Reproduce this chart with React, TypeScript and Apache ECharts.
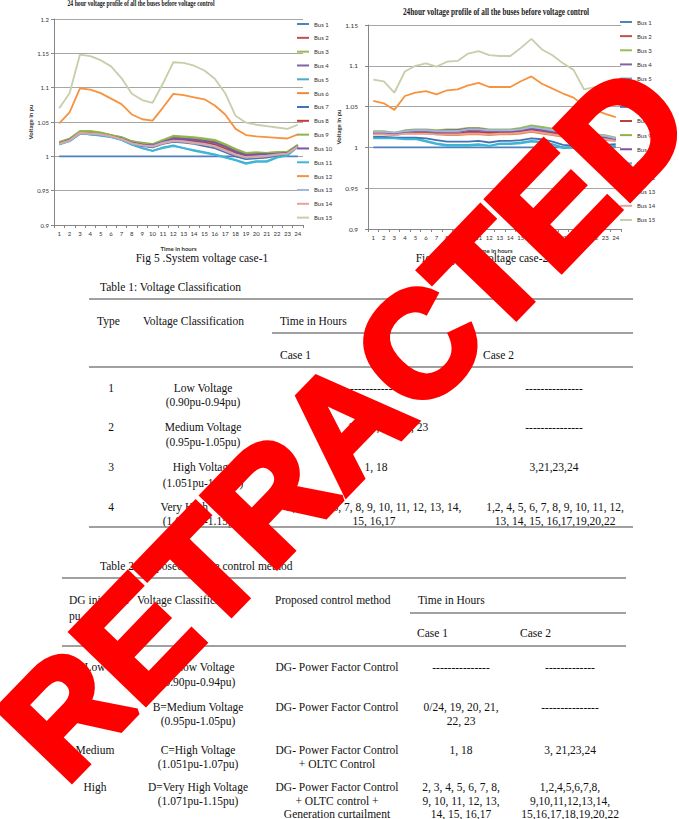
import React, { useEffect, useRef } from "react";
import * as echarts from "echarts";

const hours = ["1","2","3","4","5","6","7","8","9","10","11","12","13","14","15","16","17","18","19","20","21","22","23","24"];
const busNames = ["Bus 1","Bus 2","Bus 3","Bus 4","Bus 5","Bus 6","Bus 7","Bus 8","Bus 9","Bus 10","Bus 11","Bus 12","Bus 13","Bus 14","Bus 15"];
const busColors = ["#4F81BD","#C0504D","#9BBB59","#8064A2","#4BACC6","#E98A3E","#3F74B5","#BE3E3A","#8FB34A","#7A55A6","#3DB7D9","#F7923F","#A3B8D9","#E3A3A1","#C6CEAA"];

// Case 1 (Fig 5)
const c1Bus1 = [1,1,1,1,1,1,1,1,1,1,1,1,1,1,1,1,1,1,1,1,1,1,1,1];
const c1Bus2 = [1.020,1.025,1.035,1.035,1.034,1.030,1.027,1.021,1.019,1.017,1.022,1.027,1.026,1.025,1.023,1.021,1.015,1.008,1.003,1.004,1.004,1.005,1.006,1.016];
const c1Bus3 = [1.021,1.026,1.037,1.037,1.035,1.031,1.028,1.022,1.020,1.018,1.024,1.030,1.029,1.028,1.026,1.024,1.018,1.011,1.005,1.006,1.005,1.006,1.007,1.017];
const c1Bus4 = [1.019,1.024,1.035,1.034,1.033,1.030,1.027,1.021,1.019,1.017,1.022,1.027,1.027,1.026,1.024,1.022,1.016,1.009,1.003,1.004,1.004,1.005,1.005,1.015];
const c1Bus5 = [1.018,1.022,1.033,1.032,1.031,1.028,1.024,1.017,1.012,1.008,1.013,1.016,1.012,1.009,1.006,1.003,0.999,0.995,0.990,0.993,0.993,0.999,1.002,1.014];
const c1Bus6 = [1.019,1.024,1.035,1.035,1.034,1.031,1.027,1.020,1.018,1.016,1.021,1.025,1.024,1.022,1.020,1.018,1.012,1.006,1.002,1.003,1.003,1.004,1.005,1.015];
const c1Bus7 = [1.018,1.023,1.033,1.032,1.031,1.029,1.025,1.018,1.015,1.013,1.018,1.021,1.020,1.018,1.015,1.012,1.006,1.000,0.996,0.997,0.998,1.001,1.003,1.014];
const c1Bus8 = [1.019,1.024,1.034,1.034,1.033,1.030,1.027,1.020,1.018,1.016,1.021,1.025,1.024,1.022,1.020,1.017,1.011,1.005,1.001,1.002,1.003,1.004,1.005,1.015];
const c1Bus9 = [1.020,1.025,1.036,1.036,1.034,1.031,1.028,1.022,1.019,1.017,1.023,1.029,1.028,1.027,1.025,1.023,1.017,1.010,1.004,1.005,1.005,1.006,1.006,1.016];
const c1Bus10 = [1.019,1.024,1.034,1.033,1.032,1.029,1.026,1.020,1.017,1.016,1.021,1.026,1.025,1.024,1.022,1.020,1.014,1.007,1.002,1.003,1.003,1.004,1.005,1.015];
const c1Bus11 = [1.017,1.022,1.033,1.032,1.030,1.028,1.024,1.017,1.012,1.008,1.012,1.015,1.012,1.008,1.005,1.002,0.998,0.994,0.989,0.992,0.992,0.998,1.001,1.014];
const c1Bus12 = [1.048,1.064,1.099,1.097,1.092,1.084,1.076,1.061,1.054,1.052,1.071,1.091,1.089,1.086,1.083,1.074,1.061,1.040,1.031,1.029,1.028,1.027,1.026,1.032];
const c1Bus13 = [1.018,1.023,1.034,1.033,1.032,1.029,1.025,1.019,1.016,1.015,1.020,1.023,1.022,1.020,1.018,1.015,1.009,1.003,0.999,1.000,1.001,1.003,1.004,1.014];
const c1Bus14 = [1.018,1.023,1.034,1.033,1.032,1.029,1.025,1.019,1.016,1.014,1.019,1.022,1.021,1.019,1.017,1.014,1.008,1.002,0.998,0.999,1.000,1.002,1.004,1.014];
const c1Bus15 = [1.070,1.092,1.148,1.146,1.140,1.131,1.114,1.091,1.082,1.078,1.106,1.137,1.136,1.132,1.125,1.113,1.092,1.059,1.049,1.046,1.044,1.042,1.040,1.046];

// Case 2 (Fig 6)
const c2Bus1 = [1,1,1,1,1,1,1,1,1,1,1,1,1,1,1,1,1,1,1,1,1,1,1,1];
const c2Bus2 = [1.017,1.017,1.016,1.018,1.018,1.018,1.017,1.016,1.016,1.018,1.018,1.017,1.018,1.018,1.019,1.021,1.019,1.017,1.015,1.014,1.013,1.012,1.011,1.009];
const c2Bus3 = [1.020,1.020,1.018,1.021,1.022,1.022,1.021,1.022,1.022,1.024,1.024,1.022,1.022,1.022,1.024,1.027,1.025,1.023,1.021,1.019,1.017,1.016,1.015,1.012];
const c2Bus4 = [1.019,1.019,1.017,1.020,1.021,1.021,1.020,1.021,1.021,1.023,1.023,1.021,1.021,1.021,1.022,1.024,1.022,1.020,1.018,1.016,1.015,1.014,1.013,1.011];
const c2Bus5 = [1.012,1.012,1.012,1.011,1.011,1.008,1.005,1.003,1.003,1.003,1.004,1.002,1.005,1.005,1.006,1.008,1.007,1.004,1.000,1.000,0.998,1.000,1.001,1.002];
const c2Bus6 = [1.016,1.016,1.015,1.017,1.017,1.017,1.016,1.015,1.015,1.016,1.016,1.015,1.016,1.016,1.017,1.019,1.017,1.015,1.013,1.012,1.011,1.010,1.009,1.008];
const c2Bus7 = [1.013,1.013,1.012,1.012,1.012,1.011,1.009,1.007,1.007,1.007,1.008,1.006,1.008,1.008,1.009,1.011,1.010,1.007,1.003,1.002,1.001,1.002,1.003,1.004];
const c2Bus8 = [1.017,1.017,1.016,1.018,1.018,1.018,1.017,1.017,1.017,1.019,1.019,1.018,1.019,1.019,1.020,1.022,1.020,1.018,1.016,1.015,1.014,1.013,1.012,1.010];
const c2Bus9 = [1.018,1.018,1.017,1.019,1.020,1.020,1.019,1.020,1.020,1.022,1.022,1.021,1.021,1.021,1.023,1.026,1.024,1.021,1.019,1.017,1.015,1.014,1.013,1.010];
const c2Bus10 = [1.018,1.018,1.017,1.019,1.020,1.020,1.019,1.019,1.019,1.021,1.021,1.020,1.020,1.020,1.021,1.023,1.021,1.019,1.017,1.015,1.014,1.013,1.012,1.010];
const c2Bus11 = [1.011,1.011,1.011,1.010,1.010,1.007,1.004,1.002,1.002,1.002,1.003,1.002,1.004,1.004,1.005,1.007,1.006,1.003,0.999,0.999,0.998,0.999,1.000,1.001];
const c2Bus12 = [1.057,1.054,1.046,1.063,1.067,1.069,1.065,1.070,1.071,1.076,1.079,1.074,1.074,1.074,1.081,1.087,1.078,1.072,1.066,1.061,1.051,1.046,1.041,1.037];
const c2Bus13 = [1.019,1.019,1.018,1.020,1.021,1.021,1.020,1.020,1.020,1.022,1.022,1.021,1.021,1.021,1.022,1.025,1.023,1.021,1.019,1.017,1.016,1.015,1.014,1.011];
const c2Bus14 = [1.016,1.016,1.015,1.017,1.017,1.017,1.016,1.016,1.016,1.017,1.017,1.016,1.017,1.017,1.018,1.020,1.018,1.016,1.014,1.013,1.012,1.011,1.010,1.008];
const c2Bus15 = [1.083,1.081,1.067,1.093,1.100,1.103,1.099,1.105,1.106,1.115,1.118,1.113,1.112,1.112,1.122,1.133,1.120,1.113,1.103,1.095,1.071,1.074,1.062,1.055];

const case1Series = [c1Bus1,c1Bus2,c1Bus3,c1Bus4,c1Bus5,c1Bus6,c1Bus7,c1Bus8,c1Bus9,c1Bus10,c1Bus11,c1Bus12,c1Bus13,c1Bus14,c1Bus15];
const case2Series = [c2Bus1,c2Bus2,c2Bus3,c2Bus4,c2Bus5,c2Bus6,c2Bus7,c2Bus8,c2Bus9,c2Bus10,c2Bus11,c2Bus12,c2Bus13,c2Bus14,c2Bus15];

const SANS = "Lato, 'Liberation Sans', sans-serif";
const SERIF = "'Liberation Serif', 'Times New Roman', serif";
const TXT = "#111";
const RULE = "#808080";

function tx(text: string, x: number, y: number, align: string = "left", extra: any = {}) {
  return {
    type: "text",
    x, y,
    z: 10,
    style: {
      text,
      fontFamily: SERIF,
      fontSize: 11.5,
      fill: TXT,
      align,
      verticalAlign: "middle",
      ...extra,
    },
  };
}
function rule(x1: number, x2: number, y: number) {
  return { type: "line", z: 10, shape: { x1, y1: y, x2, y2: y }, style: { stroke: RULE, lineWidth: 1.6 } };
}

export default function App() {
  const ref = useRef<HTMLDivElement>(null);
  useEffect(() => {
    if (!ref.current) return;
    const chart = echarts.init(ref.current, undefined, { renderer: "svg" });

    const axisCommon = (gi: number, nameGap: number) => ({
      type: "category",
      gridIndex: gi,
      data: hours,
      boundaryGap: true,
      axisLine: { lineStyle: { color: "#868686", width: 1 } },
      axisTick: { show: true, length: 3, interval: 0, lineStyle: { color: "#868686" } },
      axisLabel: { fontSize: 6, color: "#333", margin: 5, interval: 0, fontFamily: SANS },
      name: "Time in hours",
      nameLocation: "middle",
      nameGap,
      nameTextStyle: { fontSize: 6, fontWeight: "bold", color: "#333", fontFamily: SANS },
    });
    const yCommon = (gi: number, max: number, nameGap: number, margin: number, fs: number) => ({
      type: "value",
      gridIndex: gi,
      min: 0.9,
      max,
      interval: 0.05,
      axisLine: { show: true, lineStyle: { color: "#868686" } },
      axisTick: { show: true, length: 3, lineStyle: { color: "#868686" } },
      splitLine: { show: true, lineStyle: { color: "#A6A6A6", width: 1 } },
      axisLabel: { fontSize: fs, color: "#333", margin, fontFamily: SANS },
      name: "Voltage in pu",
      nameLocation: "middle",
      nameRotate: 90,
      nameGap,
      nameTextStyle: { fontSize: 6, fontWeight: "bold", color: "#333", fontFamily: SANS },
    });

    const series: any[] = [];
    case1Series.forEach((d, i) => {
      series.push({
        type: "line", name: busNames[i], xAxisIndex: 0, yAxisIndex: 0, data: d,
        symbol: "none", lineStyle: { width: 1.8, color: busColors[i] }, itemStyle: { color: busColors[i] },
      });
    });
    case2Series.forEach((d, i) => {
      series.push({
        type: "line", name: busNames[i], xAxisIndex: 1, yAxisIndex: 1, data: d,
        symbol: "none", lineStyle: { width: 1.8, color: busColors[i] }, itemStyle: { color: busColors[i] },
      });
    });

    const legendCommon = {
      data: busNames,
      orient: "vertical",
      icon: "rect",
      itemWidth: 12,
      itemHeight: 2,
      padding: 0,
      selectedMode: false,
      textStyle: { fontSize: 6, lineHeight: 10, height: 10, color: "#333", fontFamily: SANS },
    };

    const graphic: any[] = [
      // chart titles
      { type: "text", x: 141, y: 4, scaleX: 0.715, z: 10, style: { text: "24 hour voltage profile of all the buses before voltage control", fontFamily: SERIF, fontWeight: "bold", fontSize: 8, fill: "#222", align: "center", verticalAlign: "middle" } },
      { type: "text", x: 496, y: 12, scaleX: 0.73, z: 10, style: { text: "24hour voltage profile of all the buses before voltage control", fontFamily: SERIF, fontWeight: "bold", fontSize: 10, fill: "#222", align: "center", verticalAlign: "middle" } },
      // captions
      tx("Fig 5 .System voltage case-1", 202, 258, "center"),
      tx("Fig 6 .System voltage case-2", 482, 258, "center"),
      // Table 1
      tx("Table 1: Voltage Classification", 100, 287),
      rule(89, 633, 299),
      tx("Type", 97, 321),
      tx("Voltage Classification", 143, 321),
      tx("Time in Hours", 280, 321),
      rule(272, 633, 333),
      tx("Case 1", 280, 355),
      tx("Case 2", 483, 355),
      rule(89, 633, 367),
      tx("1", 111, 388, "center"),
      tx("Low Voltage", 203, 388, "center"),
      tx("(0.90pu-0.94pu)", 203, 402, "center"),
      tx("---------------", 375, 388, "center"),
      tx("---------------", 554, 388, "center"),
      tx("2", 111, 427, "center"),
      tx("Medium Voltage", 203, 427, "center"),
      tx("(0.95pu-1.05pu)", 203, 442, "center"),
      tx("19, 20, 21, 22, 23", 388, 427, "center"),
      tx("---------------", 554, 427, "center"),
      tx("3", 111, 467, "center"),
      tx("High Voltage", 203, 467, "center"),
      tx("(1.051pu-1.07pu)", 203, 483, "center"),
      tx("1, 18", 376, 467, "center"),
      tx("3,21,23,24", 554, 467, "center"),
      tx("4", 111, 507, "center"),
      tx("Very High Voltage", 203, 507, "center"),
      tx("(1.071pu-1.15pu)", 203, 521, "center"),
      tx("2, 3, 4, 5, 6, 7, 8, 9, 10, 11, 12, 13, 14,", 374, 507, "center"),
      tx("15, 16,17", 374, 521, "center"),
      tx("1,2, 4, 5, 6, 7, 8, 9, 10, 11, 12,", 555, 507, "center"),
      tx("13, 14, 15, 16,17,19,20,22", 555, 521, "center"),
      rule(89, 633, 527),
      // Table 2
      tx("Table 2: Proposed voltage control method", 100, 566),
      rule(62, 626, 578),
      tx("DG injection", 69, 600),
      tx("pu", 69, 616),
      tx("Voltage Classification", 137, 600),
      tx("Proposed control method", 275, 600),
      tx("Time in Hours", 418, 600),
      rule(410, 626, 613),
      tx("Case 1", 417, 633),
      tx("Case 2", 520, 633),
      rule(62, 626, 646),
      tx("Low", 95, 667, "center"),
      tx("A=Low Voltage", 198, 667, "center"),
      tx("(0.90pu-0.94pu)", 198, 682, "center"),
      tx("DG- Power Factor Control", 337, 667, "center"),
      tx("---------------", 461, 667, "center"),
      tx("-------------", 570, 667, "center"),
      tx("B=Medium Voltage", 198, 707, "center"),
      tx("(0.95pu-1.05pu)", 198, 721, "center"),
      tx("DG- Power Factor Control", 337, 707, "center"),
      tx("0/24, 19, 20, 21,", 461, 707, "center"),
      tx("22, 23", 461, 721, "center"),
      tx("---------------", 570, 707, "center"),
      tx("Medium", 95, 750, "center"),
      tx("C=High Voltage", 198, 750, "center"),
      tx("(1.051pu-1.07pu)", 198, 764, "center"),
      tx("DG- Power Factor Control", 337, 750, "center"),
      tx("+ OLTC Control", 337, 764, "center"),
      tx("1, 18", 461, 750, "center"),
      tx("3, 21,23,24", 570, 750, "center"),
      tx("High", 95, 787, "center"),
      tx("D=Very High Voltage", 198, 787, "center"),
      tx("(1.071pu-1.15pu)", 198, 801, "center"),
      tx("DG- Power Factor Control", 337, 787, "center"),
      tx("+ OLTC control +", 337, 801, "center"),
      tx("Generation curtailment", 337, 814, "center"),
      tx("2, 3, 4, 5, 6, 7, 8,", 461, 787, "center"),
      tx("9, 10, 11, 12, 13,", 461, 801, "center"),
      tx("14, 15, 16,17", 461, 814, "center"),
      tx("1,2,4,5,6,7,8,", 570, 787, "center"),
      tx("9,10,11,12,13,14,", 570, 801, "center"),
      tx("15,16,17,18,19,20,22", 570, 814, "center"),
      // watermark
      {
        type: "text", x: 344, y: 422, rotation: 0.805, z: 100,
        style: { text: "RETRACTED", fontFamily: "'Liberation Sans', Arial, sans-serif", fontWeight: "bold", fontSize: 148, fill: "#FF0000", stroke: "#FF0000", lineWidth: 7, align: "center", verticalAlign: "middle" },
      },
    ];

    chart.setOption({
      animation: false,
      backgroundColor: "#ffffff",
      grid: [
        { left: 54, top: 19, width: 249, height: 206, containLabel: false },
        { left: 368, top: 25, width: 253, height: 204, containLabel: false },
      ],
      xAxis: [axisCommon(0, 20), axisCommon(1, 18)],
      yAxis: [yCommon(0, 1.2, 21, 5, 6), yCommon(1, 1.15, 23, 10, 6.5)],
      legend: [
        { ...legendCommon, left: 297, top: 19, itemGap: 3.83 },
        { ...legendCommon, left: 620, top: 17, itemGap: 4.14 },
      ],
      series,
      graphic,
    });
    return () => chart.dispose();
  }, []);
  return (
    <div
      ref={ref}
      style={{ position: "absolute", left: 0, top: 0, width: 679, height: 819, background: "#fff" }}
    />
  );
}
